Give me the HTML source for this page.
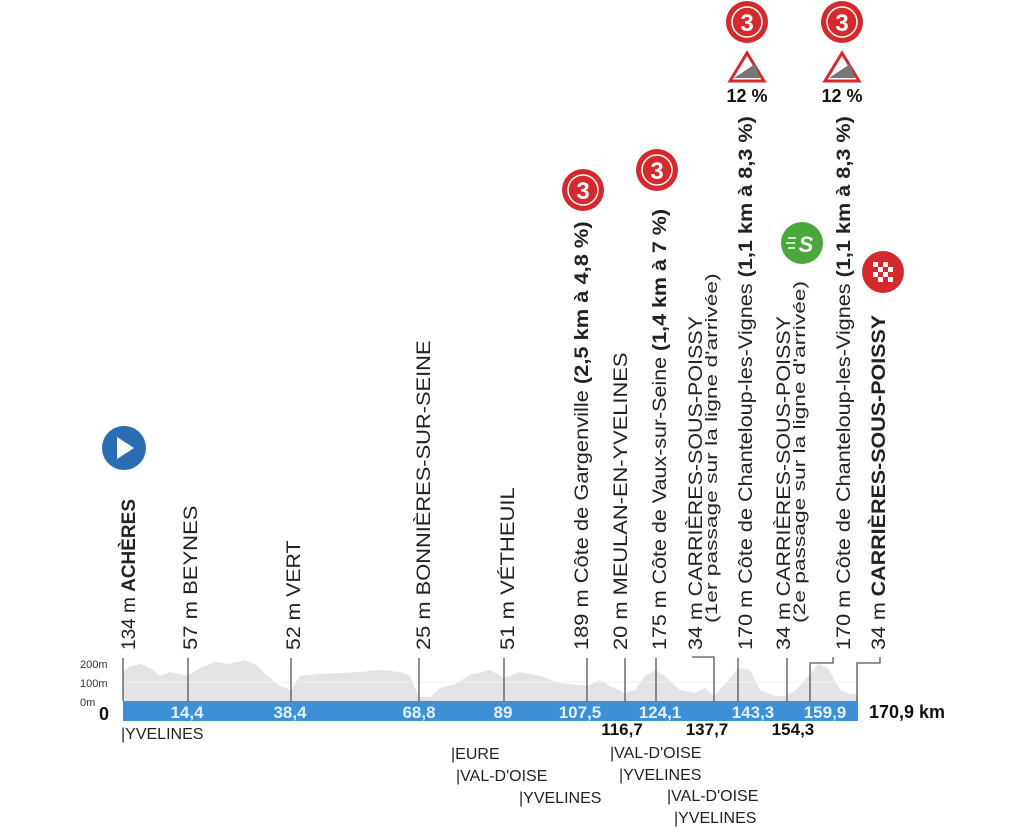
<!DOCTYPE html>
<html><head><meta charset="utf-8"><style>
html,body{margin:0;padding:0;background:#fff;}
svg{display:block;font-family:"Liberation Sans",Arial,sans-serif;}
</style></head><body>
<svg width="1024" height="839" viewBox="0 0 1024 839" xmlns="http://www.w3.org/2000/svg">
<path d="M123,701 L123,672 L130,666 L140,664 L150,668 L160,676 L170,672 L188,676 L200,668 L215,662 L230,664 L245,660 L258,666 L265,674 L280,686 L291,690 L300,676 L320,674 L340,673 L360,672 L380,670 L400,672 L410,676 L419,697 L430,697 L440,688 L455,684 L470,675 L490,670 L504,678 L520,672 L540,676 L560,683 L587,686 L600,680 L610,686 L625,693 L635,690 L645,676 L656,670 L665,676 L680,690 L695,693 L705,688 L714,696 L725,684 L738,668 L750,670 L760,690 L775,696 L787,696 L798,688 L810,674 L818,664 L828,668 L840,690 L850,694 L858,694 L858,701 Z" fill="#e4e4e4"/>
<line x1="123" y1="682" x2="858" y2="682" stroke="#f2f2f2" stroke-width="1"/>
<text x="80" y="668" font-size="11" fill="#333">200m</text>
<text x="80" y="687" font-size="11" fill="#333">100m</text>
<text x="80" y="706" font-size="11" fill="#333">0m</text>
<text x="99" y="720" font-size="18" font-weight="bold" fill="#111">0</text>
<rect x="123" y="701" width="735" height="20" fill="#3d8fd6"/>
<g font-size="17" font-weight="bold" fill="#dff2ff" text-anchor="middle">
<text x="187" y="718">14,4</text><text x="290" y="718">38,4</text><text x="419" y="718">68,8</text>
<text x="503" y="718">89</text><text x="580" y="718">107,5</text><text x="660" y="718">124,1</text>
<text x="753" y="718">143,3</text><text x="825" y="718">159,9</text>
</g>
<text x="869" y="718" font-size="18" font-weight="bold" fill="#111">170,9 km</text>
<g font-size="17" font-weight="bold" fill="#111" text-anchor="middle">
<text x="622" y="735">116,7</text><text x="707" y="735">137,7</text><text x="793" y="735">154,3</text>
</g>
<g stroke="#555" stroke-width="1.3" fill="none">
<line x1="123" y1="658" x2="123" y2="701"/><line x1="188" y1="658" x2="188" y2="701"/>
<line x1="291" y1="658" x2="291" y2="701"/><line x1="419" y1="658" x2="419" y2="701"/>
<line x1="504" y1="658" x2="504" y2="701"/><line x1="587" y1="658" x2="587" y2="701"/>
<line x1="625" y1="658" x2="625" y2="701"/><line x1="656" y1="658" x2="656" y2="701"/>
<polyline points="692,657 714,657 714,701"/>
<line x1="738" y1="658" x2="738" y2="701"/><line x1="787" y1="658" x2="787" y2="701"/>
<polyline points="833,657 833,663 810,663 810,701"/>
<polyline points="880,657 880,663 857,663 857,701"/>
</g>
<g font-size="16" fill="#222">
<text x="121" y="739">|YVELINES</text>
<text x="451" y="759">|EURE</text><text x="456" y="781">|VAL-D'OISE</text><text x="519" y="803">|YVELINES</text>
<text x="610" y="758">|VAL-D'OISE</text><text x="619" y="780">|YVELINES</text>
<text x="667" y="801">|VAL-D'OISE</text><text x="674" y="823">|YVELINES</text>
</g>
<g font-size="19" fill="#222">
<text transform="translate(135,650) rotate(-90)">134 m <tspan font-weight="bold">ACHÈRES</tspan></text>
<text transform="translate(197,650) rotate(-90) scale(1.16,1)">57 m BEYNES</text>
<text transform="translate(300,650) rotate(-90) scale(1.12,1)">52 m VERT</text>
<text transform="translate(430,650) rotate(-90) scale(1.15,1)">25 m BONNIÈRES-SUR-SEINE</text>
<text transform="translate(514,650) rotate(-90) scale(1.16,1)">51 m VÉTHEUIL</text>
<text transform="translate(588,650) rotate(-90) scale(1.15,1)">189 m Côte de Gargenville <tspan font-weight="bold">(2,5 km à 4,8 %)</tspan></text>
<text transform="translate(627,650) rotate(-90) scale(1.15,1)">20 m MEULAN-EN-YVELINES</text>
<text transform="translate(666,650) rotate(-90) scale(1.13,1)">175 m Côte de Vaux-sur-Seine <tspan font-weight="bold">(1,4 km à 7 %)</tspan></text>
<text transform="translate(702,650) rotate(-90) scale(1.13,1)">34 m CARRIÈRES-SOUS-POISSY</text>
<text transform="translate(717,623) rotate(-90) scale(1.34,1)" font-size="17">(1er passage sur la ligne d'arrivée)</text>
<text transform="translate(752,650) rotate(-90) scale(1.14,1)">170 m Côte de Chanteloup-les-Vignes <tspan font-weight="bold">(1,1 km à 8,3 %)</tspan></text>
<text transform="translate(790,650) rotate(-90) scale(1.13,1)">34 m CARRIÈRES-SOUS-POISSY</text>
<text transform="translate(805,623) rotate(-90) scale(1.34,1)" font-size="17">(2e passage sur la ligne d'arrivée)</text>
<text transform="translate(850,650) rotate(-90) scale(1.14,1)">170 m Côte de Chanteloup-les-Vignes <tspan font-weight="bold">(1,1 km à 8,3 %)</tspan></text>
<text transform="translate(885,650) rotate(-90) scale(1.13,1)">34 m <tspan font-weight="bold">CARRIÈRES-SOUS-POISSY</tspan></text>
</g>
<circle cx="124" cy="448" r="22" fill="#2a6db3"/>
<polygon points="117,437 117,459 134,448" fill="#fff"/>
<g font-size="24" font-weight="bold" fill="#fff" text-anchor="middle">
<circle cx="583" cy="190" r="21" fill="#d42a2e"/><circle cx="583" cy="190" r="15" fill="none" stroke="#fff" stroke-width="1.5"/><text x="583" y="199">3</text>
<circle cx="657" cy="170" r="21" fill="#d42a2e"/><circle cx="657" cy="170" r="15" fill="none" stroke="#fff" stroke-width="1.5"/><text x="657" y="179">3</text>
<circle cx="747" cy="22" r="21" fill="#d42a2e"/><circle cx="747" cy="22" r="15" fill="none" stroke="#fff" stroke-width="1.5"/><text x="747" y="31">3</text>
<circle cx="842" cy="22" r="21" fill="#d42a2e"/><circle cx="842" cy="22" r="15" fill="none" stroke="#fff" stroke-width="1.5"/><text x="842" y="31">3</text>
</g>
<g>
<polygon points="747,53 730,81 764,81" fill="#fff" stroke="#d42a2e" stroke-width="3"/>
<polygon points="734,78 760,78 755,64" fill="#777"/>
<polygon points="842,53 825,81 859,81" fill="#fff" stroke="#d42a2e" stroke-width="3"/>
<polygon points="829,78 855,78 850,64" fill="#777"/>
</g>
<g font-size="18" font-weight="bold" fill="#111" text-anchor="middle">
<text x="747" y="102">12 %</text><text x="842" y="102">12 %</text>
</g>
<circle cx="802" cy="243" r="21" fill="#4aa73c"/>
<text x="806" y="252" font-size="22" font-weight="bold" font-style="italic" fill="#fff" text-anchor="middle">S</text>
<g stroke="#fff" stroke-width="1.5"><line x1="788" y1="238" x2="796" y2="238"/><line x1="786" y1="243" x2="795" y2="243"/><line x1="788" y1="248" x2="795" y2="248"/></g>
<circle cx="883" cy="272" r="21" fill="#d42a2e"/>
<g fill="#fff">
<rect x="873" y="262" width="5" height="5"/><rect x="883" y="262" width="5" height="5"/>
<rect x="878" y="267" width="5" height="5"/><rect x="888" y="267" width="5" height="5"/>
<rect x="873" y="272" width="5" height="5"/><rect x="883" y="272" width="5" height="5"/>
<rect x="878" y="277" width="5" height="5"/><rect x="888" y="277" width="5" height="5"/>
</g>
</svg>
</body></html>
